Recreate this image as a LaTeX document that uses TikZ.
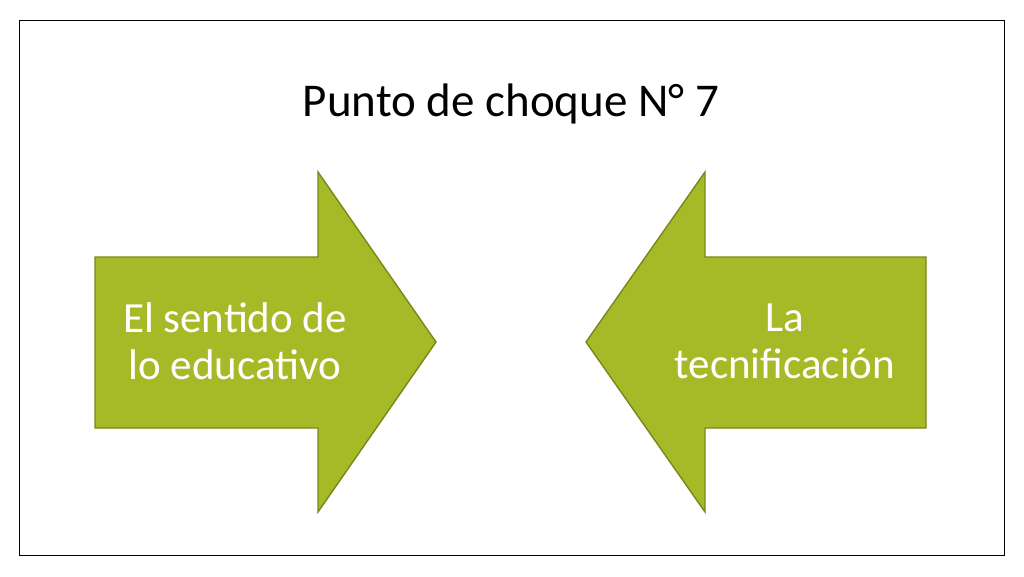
\documentclass[tikz,border=0pt]{standalone}
\usepackage{fontspec}
\setmainfont{Carlito}
\definecolor{arrowfill}{RGB}{166,186,40}
\definecolor{arrowedge}{RGB}{118,136,28}
\begin{document}
\begin{tikzpicture}[x=1pt,y=-1pt,
  bigarrow/.style={fill=arrowfill,draw=arrowedge,line width=1.4pt,line join=miter},
  armtext/.style={text=white,font=\fontsize{43}{47}\selectfont,inner sep=0pt,align=center}]
\useasboundingbox (0,0) rectangle (1024,576);
\draw[line width=1pt] (19,20) rectangle (1004,555);
\node[font=\fontsize{47}{56}\selectfont,anchor=base] (title) at (511,116) {Punto de choque N° 7};
\draw[bigarrow] (95,257) -- (318,257) -- (318,172) -- (436,342) -- (318,512) -- (318,428) -- (95,428) -- cycle;
\draw[bigarrow] (926,257) -- (705,257) -- (705,172) -- (586,342) -- (705,512) -- (705,428) -- (926,428) -- cycle;
\node[armtext] (left) at (235,341) {El sentido de\\lo educativo};
\node[armtext] (right) at (785,341) {La\\tecnificación};
\end{tikzpicture}
\end{document}
